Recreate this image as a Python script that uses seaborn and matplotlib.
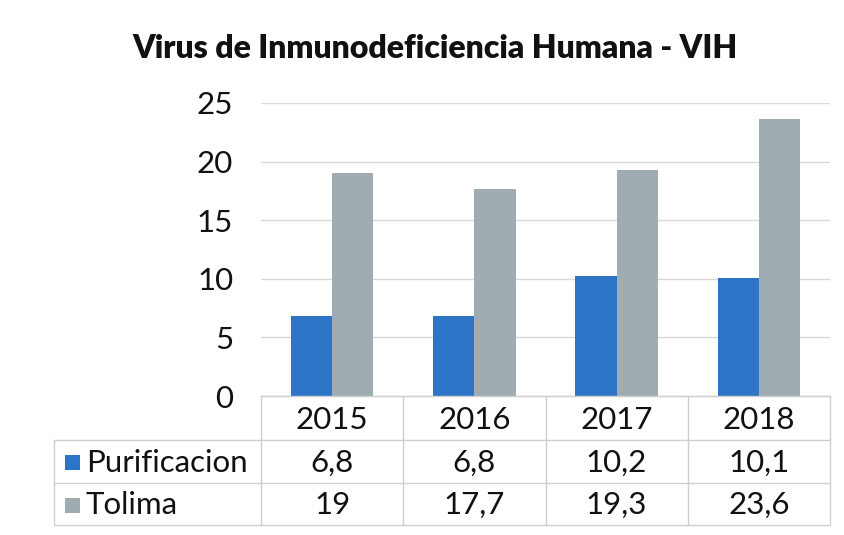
import numpy as np
import pandas as pd
import matplotlib
matplotlib.use("Agg")
import matplotlib.pyplot as plt
import matplotlib.transforms as mtransforms
from matplotlib.lines import Line2D
from matplotlib.patches import Rectangle
import seaborn as sns

# ---- data ----
years = ["2015", "2016", "2017", "2018"]
series_names = ["Purificacion", "Tolima"]
purificacion = [6.8, 6.8, 10.2, 10.1]
tolima = [19, 17.7, 19.3, 23.6]
yticks = [0, 5, 10, 15, 20, 25]
title = "Virus de Inmunodeficiencia Humana - VIH"

colors = {"Purificacion": "#2e74c6", "Tolima": "#9fadb2"}

df = pd.DataFrame({
    "year": years * 2,
    "series": [series_names[0]] * 4 + [series_names[1]] * 4,
    "value": purificacion + tolima,
})

sns.set_theme(style="white")
plt.rcParams["font.family"] = ["Lato", "DejaVu Sans"]

W, H = 845, 535
fig = plt.figure(figsize=(W / 100, H / 100), dpi=100)
fig.patch.set_facecolor("white")

def fx(px):
    return px / W

def fy(py):
    return 1 - py / H

left, right, top, bottom = 261, 830, 103, 396
ax = fig.add_axes([fx(left), fy(bottom), fx(right) - fx(left), fy(top) - fy(bottom)])

sns.barplot(data=df, x="year", y="value", hue="series", order=years,
            hue_order=series_names, palette=colors, width=0.58, gap=0,
            saturation=1, linewidth=0, ax=ax, legend=False)

txt_size = 22.5
ax.set_xlim(-0.5, 3.5)
ax.set_ylim(0, 25)
ax.set_yticks(yticks)
ax.set_yticklabels([str(t) for t in yticks], fontsize=txt_size, color="#111111")
ax.tick_params(axis="y", length=0, pad=20)
ax.set_xticks([])
ax.set_xlabel("")
ax.set_ylabel("")
ax.grid(axis="y", color="#d9d9d9", linewidth=1)
ax.set_axisbelow(True)
for s in ["top", "right", "left"]:
    ax.spines[s].set_visible(False)
ax.spines["bottom"].set_color("#cfcfcf")
ax.spines["bottom"].set_linewidth(1)

fig.text(fx(435), fy(48), title, ha="center", va="center",
         fontsize=23, fontweight="heavy", color="#111111")

# ---- data table ----
lc = "#cfcfcf"
tbl_left = 54
row_h = [396, 440, 483, 525]
col_edges = [-0.5, 0.5, 1.5, 2.5, 3.5]
blend = mtransforms.blended_transform_factory(ax.transData, fig.transFigure)

for xe in col_edges:
    fig.add_artist(Line2D([xe, xe], [fy(row_h[0]), fy(row_h[3])], transform=blend,
                          color=lc, linewidth=1))
for py in row_h[1:]:
    fig.add_artist(Line2D([fx(tbl_left), fx(right)], [fy(py), fy(py)],
                          transform=fig.transFigure, color=lc, linewidth=1))
fig.add_artist(Line2D([fx(tbl_left), fx(tbl_left)], [fy(row_h[1]), fy(row_h[3])],
                      transform=fig.transFigure, color=lc, linewidth=1))

def fmt(v):
    if float(v).is_integer():
        return str(int(v))
    return ("%g" % v).replace(".", ",")

for i, y in enumerate(years):
    fig.text(i, fy(420), y, transform=blend,
             ha="center", va="center", fontsize=txt_size, color="#111111")

for r, (name, vals) in enumerate(zip(series_names, [purificacion, tolima])):
    yc = fy((row_h[r + 1] + row_h[r + 2]) / 2 + 1)
    fig.add_artist(Rectangle((fx(65), yc - 7.5 / H), 15 / W, 15 / H,
                             transform=fig.transFigure, color=colors[name], lw=0))
    fig.text(fx(86), yc, name, ha="left", va="center", fontsize=txt_size, color="#111111")
    for i, v in enumerate(vals):
        fig.text(i, yc, fmt(v), transform=blend, ha="center", va="center",
                 fontsize=txt_size, color="#111111")

fig.savefig("out.png", dpi=100, facecolor="white")
